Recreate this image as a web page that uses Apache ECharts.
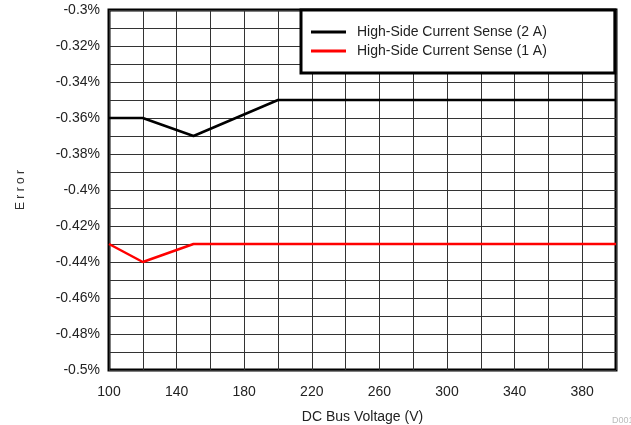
<!DOCTYPE html>
<html>
<head>
<meta charset="utf-8">
<script src="https://cdn.jsdelivr.net/npm/echarts@6/dist/echarts.min.js"></script>
<style>
  html, body { margin: 0; padding: 0; background: #fff; }
  #chart { width: 631px; height: 425px; }
</style>
</head>
<body>
<div id="chart"></div>
<script>
// DC bus voltage (V) sample points
const voltage = [100, 120, 150, 200, 400];
// Current-sense error (%) at each voltage
const error2A = [-0.36, -0.36, -0.37, -0.35, -0.35];
const error1A = [-0.43, -0.44, -0.43, -0.43, -0.43];

const seriesNames = ['High-Side Current Sense (2 A)', 'High-Side Current Sense (1 A)'];
const seriesColors = ['#000000', '#ff0000'];

const pairs = (xs, ys) => xs.map((x, i) => [x, ys[i]]);

const font = 'Liberation Sans, Arial, sans-serif';

const chart = echarts.init(document.getElementById('chart'), null, { renderer: 'canvas' });

chart.setOption({
  animation: false,
  backgroundColor: '#fff',
  grid: {
    left: 109, right: 15, top: 10, bottom: 55,
    outerBoundsMode: 'none', containLabel: false,
    show: true, borderColor: '#000', borderWidth: 3, backgroundColor: 'transparent'
  },
  legend: {
    orient: 'vertical',
    left: 301, top: 10,
    padding: [15, 68, 15, 10],
    itemGap: 5,
    itemWidth: 35, itemHeight: 3,
    icon: 'rect',
    backgroundColor: '#fff',
    borderColor: '#000', borderWidth: 3,
    textStyle: { fontFamily: font, fontSize: 14, color: '#222', padding: [0, 0, 0, 6] },
    data: seriesNames
  },
  xAxis: {
    type: 'value', min: 100, max: 400, interval: 20,
    name: 'DC Bus Voltage (V)', nameLocation: 'middle', nameGap: 40,
    nameTextStyle: { fontFamily: font, fontSize: 14, color: '#222' },
    axisLine: { show: false },
    axisTick: { show: false },
    axisLabel: {
      margin: 15, fontFamily: font, fontSize: 14, color: '#222',
      formatter: v => ((v - 100) % 40 === 0 && v < 400) ? String(v) : ''
    },
    splitLine: { show: true, lineStyle: { color: '#333', width: 1 } }
  },
  yAxis: {
    type: 'value', min: -0.5, max: -0.3, interval: 0.01,
    name: 'E r r o r', nameLocation: 'middle', nameGap: 82, nameRotate: 90,
    nameTextStyle: { fontFamily: font, fontSize: 12, color: '#333' },
    axisLine: { show: false },
    axisTick: { show: false },
    axisLabel: {
      margin: 9, fontFamily: font, fontSize: 14, color: '#222',
      formatter: v => {
        const k = Math.round(v * 100);
        if (k % 2 !== 0) return '';
        return (k / 100) + '%';
      }
    },
    splitLine: { show: true, lineStyle: { color: '#333', width: 1 } }
  },
  graphic: [{
    type: 'text', left: 612, top: 416,
    style: { text: 'D001', fill: '#bbb', font: '9px ' + font }
  }],
  series: [
    {
      name: seriesNames[0], type: 'line', data: pairs(voltage, error2A),
      symbol: 'none', color: seriesColors[0],
      lineStyle: { width: 2.5, color: seriesColors[0] }, z: 3
    },
    {
      name: seriesNames[1], type: 'line', data: pairs(voltage, error1A),
      symbol: 'none', color: seriesColors[1],
      lineStyle: { width: 2.5, color: seriesColors[1] }, z: 3
    }
  ]
});
</script>
</body>
</html>
